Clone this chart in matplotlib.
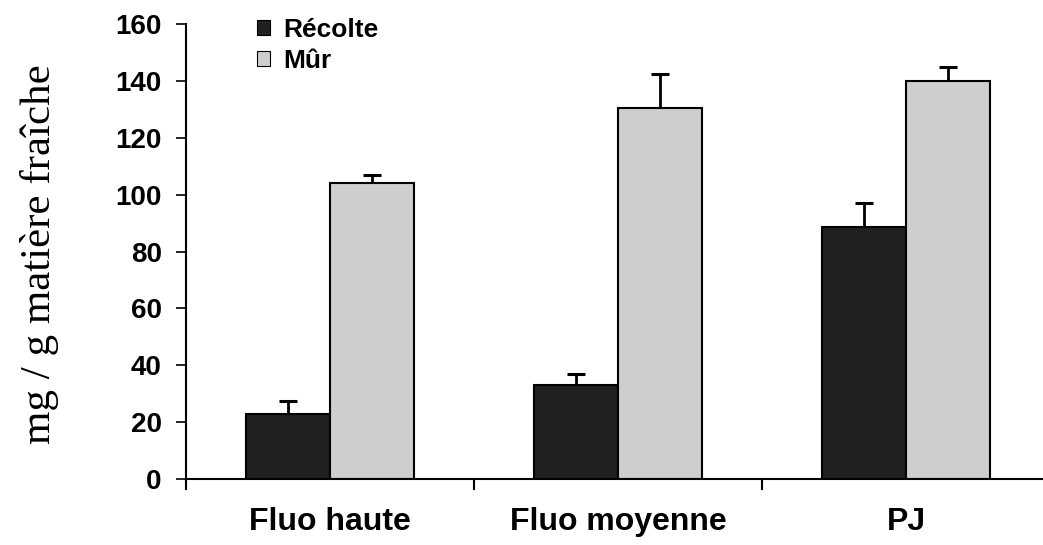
import matplotlib
matplotlib.use("Agg")
import matplotlib.pyplot as plt
from matplotlib.patches import Patch
import numpy as np

categories = ["Fluo haute", "Fluo moyenne", "PJ"]
series_names = ["Récolte", "Mûr"]
recolte = [23.0, 33.0, 88.5]
recolte_err = [4.5, 4.0, 8.5]
mur = [104.2, 130.3, 140.0]
mur_err = [2.6, 12.2, 5.0]
y_ticks = [0, 20, 40, 60, 80, 100, 120, 140, 160]
y_label = "mg / g matière fraîche"

W, H = 1043, 545
fig = plt.figure(figsize=(W / 100, H / 100), dpi=100)
ax = fig.add_axes([186 / W, 66 / H, (1050 - 186) / W, 455 / H])

centers = np.arange(len(categories)) + 0.5
bw = 0.29
dark = "#202020"
light = "#cecece"

ax.bar(centers - bw / 2, recolte, bw, color=dark, edgecolor="black", linewidth=1.5, zorder=2)
ax.bar(centers + bw / 2, mur, bw, color=light, edgecolor="black", linewidth=1.5, zorder=2)


def upper_errors(x, vals, errs):
    # one-sided error bars: a stem up from the bar top with a cap
    tops = np.asarray(vals) + np.asarray(errs)
    ax.vlines(x, vals, tops, colors="black", linewidth=2, zorder=3)
    ax.plot(x, tops, linestyle="none", marker="_", markersize=13,
            markeredgewidth=2.2, color="black", zorder=3)


upper_errors(centers - bw / 2, recolte, recolte_err)
upper_errors(centers + bw / 2, mur, mur_err)

ax.set_xlim(0, 3)
ax.set_ylim(0, 160)
ax.set_yticks(y_ticks)
ax.set_yticklabels([str(v) for v in y_ticks], fontsize=20, fontweight="bold",
                   family="Liberation Sans")
ax.set_xticks([0, 1, 2, 3])
ax.set_xticklabels([])
ax.set_xticks(centers, minor=True)
ax.set_xticklabels(categories, minor=True, fontsize=23, fontweight="bold",
                   family="Liberation Sans")
ax.tick_params(axis="x", which="minor", length=0, pad=20)
ax.tick_params(axis="x", which="major", length=8, width=1.5, direction="out")
ax.tick_params(axis="y", length=7.5, width=1.2, direction="out", pad=10)

for s in ["top", "right"]:
    ax.spines[s].set_visible(False)
ax.spines["left"].set_linewidth(1.5)
ax.spines["bottom"].set_linewidth(1.5)

fig.text(40 / W, 1 - 254 / H, y_label, rotation=90, ha="center", va="center",
         fontsize=31, family="Liberation Serif")

handles = [Patch(facecolor=dark, edgecolor="black", linewidth=0.8),
           Patch(facecolor=light, edgecolor="black", linewidth=0.8)]
leg = ax.legend(handles, series_names, loc="upper left",
                bbox_to_anchor=(257 / W, 1 - 18 / H), bbox_transform=fig.transFigure,
                frameon=False, borderpad=0, borderaxespad=0,
                handlelength=0.5, handleheight=0.5, handletextpad=0.5,
                labelspacing=0.25, prop={"family": "Liberation Sans", "weight": "bold", "size": 19})

fig.savefig("out.png", dpi=100)
